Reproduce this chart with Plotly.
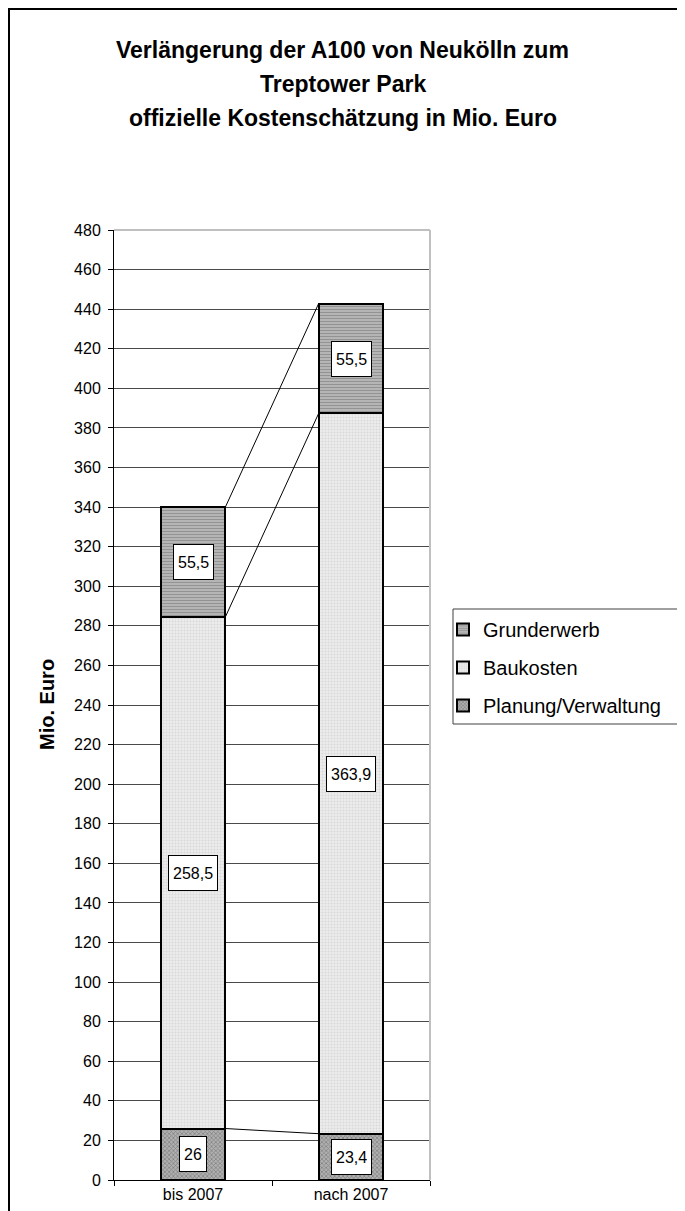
import plotly.graph_objects as go

categories = ["bis 2007", "nach 2007"]
planung = [26, 23.4]
baukosten = [258.5, 363.9]
grunderwerb = [55.5, 55.5]
series_names = ["Planung/Verwaltung", "Baukosten", "Grunderwerb"]
y_ticks = list(range(0, 481, 20))
title_lines = ["Verlängerung der A100 von Neukölln zum", "Treptower Park",
               "offizielle Kostenschätzung in Mio. Euro"]

FONT = "Liberation Sans, Arial, sans-serif"
OFF = 8  # page body margin
W, H = 685, 1211
L = 114 - OFF
R = W - (430 - OFF)
T = 230 - OFF
B = H - (1180 - OFF)
PW, PH = W - L - R, H - T - B


def px_x(p):
    """reference page x -> paper"""
    return (p - OFF - L) / PW


def px_y(p):
    """reference page y -> paper"""
    return (H - B - (p - OFF)) / PH


def fmt(v):
    return f"{v:g}".replace(".", ",")


series = [planung, baukosten, grunderwerb]
patterns = [
    dict(shape="x", fgcolor="#555555", bgcolor="#b0b0b0", size=3, solidity=0.45),
    dict(shape=".", fgcolor="#c4c4c4", bgcolor="#ececec", size=3, solidity=0.35),
    dict(shape="-", fgcolor="#6e6e6e", bgcolor="#b8b8b8", size=3, solidity=0.4),
]
ranks = [3, 2, 1]
bar_width = 0.41

fig = go.Figure()
for name, vals, pat, rk in zip(series_names, series, patterns, ranks):
    fig.add_trace(go.Bar(
        x=categories, y=vals, name=name, width=bar_width,
        legendgroup=name, legendrank=rk,
        marker=dict(color=pat["bgcolor"], pattern=pat,
                    line=dict(color="black", width=2)),
        hoverinfo="skip",
    ))

# cumulative values
bases, tops = [], []
for ci in range(len(categories)):
    acc = 0
    b_row, t_row = [], []
    for s in series:
        b_row.append(acc)
        acc += s[ci]
        t_row.append(acc)
    bases.append(b_row)
    tops.append(t_row)

annotations = []
for ci, cat in enumerate(categories):
    for si, s in enumerate(series):
        mid = (bases[ci][si] + tops[ci][si]) / 2
        annotations.append(dict(
            x=cat, y=mid, xref="x", yref="y", text=fmt(s[ci]), showarrow=False,
            font=dict(family=FONT, size=16, color="black"),
            bgcolor="white", bordercolor="black", borderwidth=1, borderpad=4,
            height=26,
        ))

for line, py in zip(title_lines, [50, 84, 118]):
    annotations.append(dict(
        x=px_x(342.5), y=px_y(py), xref="paper", yref="paper", text=f"<b>{line}</b>",
        showarrow=False, xanchor="center", yanchor="middle",
        font=dict(family=FONT, size=23, color="black"),
    ))

annotations.append(dict(
    x=px_x(47), y=0.5, xref="paper", yref="paper", text="<b>Mio. Euro</b>",
    textangle=-90, showarrow=False, xanchor="center", yanchor="middle",
    font=dict(family=FONT, size=20, color="black"),
))

shapes = []
for si in range(len(series)):
    shapes.append(dict(
        type="line", xref="x", yref="y",
        x0=0 + bar_width / 2, y0=tops[0][si], x1=1 - bar_width / 2, y1=tops[1][si],
        line=dict(color="black", width=1), layer="above",
    ))
shapes.append(dict(type="line", xref="paper", yref="paper", x0=0, x1=1, y0=1, y1=1,
                   line=dict(color="#c0c0c0", width=2)))
shapes.append(dict(type="line", xref="paper", yref="paper", x0=1, x1=1, y0=0, y1=1,
                   line=dict(color="#c0c0c0", width=2)))
shapes.append(dict(type="rect", xref="paper", yref="paper",
                   x0=px_x(9), x1=px_x(760), y0=px_y(1260), y1=px_y(9),
                   line=dict(color="black", width=2)))
shapes.append(dict(type="rect", xref="paper", yref="paper",
                   x0=px_x(453), x1=px_x(760), y0=px_y(724), y1=px_y(609),
                   line=dict(color="#404040", width=1)))

fig.update_layout(
    width=W, height=H,
    margin=dict(l=L, r=R, t=T, b=B),
    paper_bgcolor="white", plot_bgcolor="white",
    barmode="stack",
    showlegend=True,
    legend=dict(
        x=px_x(443), y=px_y(610), xanchor="left", yanchor="top",
        traceorder="grouped", tracegroupgap=9,
        font=dict(family=FONT, size=20, color="black"),
        bgcolor="rgba(0,0,0,0)", borderwidth=0,
    ),
    font=dict(family=FONT, color="black"),
    annotations=annotations,
    shapes=shapes,
    xaxis=dict(
        type="category", range=[-0.5, 1.5],
        showline=True, linecolor="black", linewidth=1,
        ticks="outside", tickson="boundaries", ticklen=5, tickcolor="black",
        tickfont=dict(family=FONT, size=16, color="black"),
        showgrid=False, zeroline=False,
    ),
    yaxis=dict(
        range=[0, 480], tickvals=y_ticks,
        showline=True, linecolor="black", linewidth=1,
        ticks="outside", ticklen=5, tickcolor="black",
        tickfont=dict(family=FONT, size=16, color="black"),
        showgrid=True, gridcolor="#4a4a4a", gridwidth=1, zeroline=False,
        ticklabelstandoff=4,
    ),
)

fig.write_html("out.html")
